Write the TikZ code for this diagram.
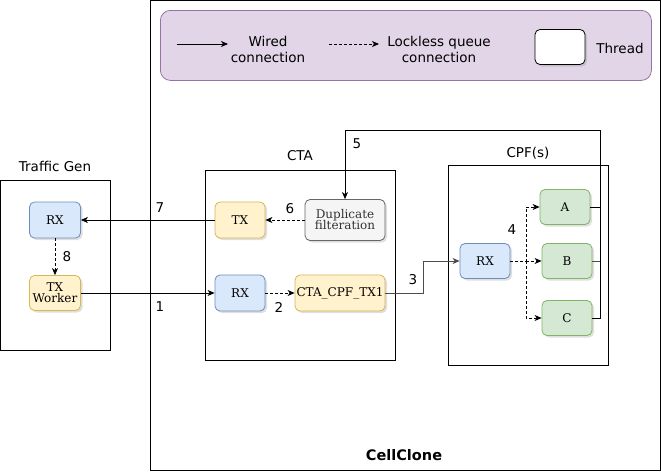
\documentclass[tikz,border=0pt]{standalone}
\usepackage{fontspec}
\setmainfont{DejaVu Sans}
\newfontfamily\nodefont{DejaVu Serif}
\usetikzlibrary{arrows.meta,shadows}
\definecolor{bluef}{HTML}{DAE8FC}\definecolor{blues}{HTML}{6C8EBF}
\definecolor{yelf}{HTML}{FFF2CC}\definecolor{yels}{HTML}{D6B656}
\definecolor{grnf}{HTML}{D5E8D4}\definecolor{grns}{HTML}{82B366}
\definecolor{gryf}{HTML}{F5F5F5}\definecolor{grys}{HTML}{666666}
\definecolor{purf}{HTML}{E1D5E7}\definecolor{purs}{HTML}{9673A6}
\begin{document}
\begin{tikzpicture}[x=1pt,y=-1pt,
  thr/.style={draw, rounded corners=5pt, line width=0.8pt, minimum width=50pt, minimum height=35pt, inner sep=1pt, align=center, font=\nodefont\fontsize{12}{13}\selectfont, drop shadow={shadow xshift=2pt, shadow yshift=-2pt, opacity=0.25}},
  bluebox/.style={thr, fill=bluef, draw=blues},
  yelbox/.style={thr, fill=yelf, draw=yels},
  grnbox/.style={thr, fill=grnf, draw=grns},
  grybox/.style={thr, fill=gryf, draw=grys, text=black!80},
  frame/.style={draw, line width=0.8pt},
  lbl/.style={font=\fontsize{13.5}{16}\selectfont},
  wired/.style={line width=0.8pt, -{Stealth[length=7pt,width=6pt,inset=2pt]}},
  lockless/.style={wired, dashed, dash pattern=on 3pt off 2pt},
]
\useasboundingbox (0,0) rectangle (661,471);
% CellClone outer frame
\node[frame, minimum width=510pt, minimum height=470pt, anchor=north west, inner sep=0pt] (cell) at (150,0) {};
\node[font=\bfseries\fontsize{14.5}{16}\selectfont] (celllbl) at (404,455) {CellClone};
% Legend
\node[draw=purs, fill=purf, rounded corners=10pt, line width=0.8pt, minimum width=491pt, minimum height=70pt, anchor=north west, inner sep=0pt] (legend) at (160,10) {};
\coordinate (lw1) at (177,44); \coordinate (lw2) at (228,44);
\draw[wired] (lw1) -- (lw2);
\node[lbl, align=center] (lwt) at (268,49) {Wired\\connection};
\coordinate (ll1) at (329,44); \coordinate (ll2) at (379,44);
\draw[lockless] (ll1) -- (ll2);
\node[lbl, align=center] (llt) at (439,49) {Lockless queue\\connection};
\node[draw, fill=white, rounded corners=5pt, line width=0.8pt, minimum width=50pt, minimum height=35pt, drop shadow={shadow xshift=2pt, shadow yshift=-2pt, opacity=0.25}] (thrleg) at (560,47) {};
\node[lbl] (thrt) at (620,48) {Thread};
% Traffic Gen
\node[frame, minimum width=110pt, minimum height=170pt, anchor=north west, inner sep=0pt] (tg) at (0,180) {};
\node[lbl] (tglbl) at (55,166) {Traffic Gen};
\node[bluebox, minimum width=51pt, minimum height=36pt] (tgrx) at (55,220) {RX};
\node[yelbox, minimum width=51pt, minimum height=35pt] (tgtx) at (55,293) {TX\\[-2pt]Worker};
% CTA
\node[frame, minimum width=190pt, minimum height=190pt, anchor=north west, inner sep=0pt] (cta) at (205,170) {};
\node[lbl] (ctalbl) at (300,156) {CTA};
\node[yelbox, minimum height=36pt] (ctatx) at (240,220) {TX};
\node[grybox, minimum width=80pt, minimum height=41pt] (dup) at (345,220) {Duplicate\\[-2pt]filteration};
\node[bluebox, minimum height=36pt] (ctarx) at (240,293) {RX};
\node[yelbox, minimum width=90pt, minimum height=36pt] (ctacpf) at (340,293) {CTA\_CPF\_TX1};
% CPF
\node[frame, minimum width=160pt, minimum height=200pt, anchor=north west, inner sep=0pt] (cpf) at (448,165) {};
\node[lbl] (cpflbl) at (528,153) {CPF(s)};
\node[bluebox] (cpfrx) at (485,261) {RX};
\node[grnbox] (a) at (565,207) {A};
\node[grnbox] (b) at (567,261) {B};
\node[grnbox] (c) at (567,318) {C};
% connectors
\draw[lockless] (tgrx) -- node[lbl, right=4pt] {8} (tgtx);
\draw[wired] (tgtx) -- (ctarx);
\node[lbl] (n1) at (160,307) {1};
\draw[lockless] (ctarx) -- (ctacpf);
\node[lbl] (n2) at (279,307) {2};
\coordinate (j3) at (423,293);
\draw[wired, draw=black!70] (ctacpf.east) -- (j3) |- (cpfrx.west);
\node[lbl] (n3) at (413,280) {3};
\coordinate (j4) at (526,261);
\draw[lockless] (cpfrx.east) -- (j4) |- (a.west);
\draw[lockless] (j4) -- (b.west);
\draw[lockless] (j4) |- (c.west);
\node[lbl] (n4) at (512,230) {4};
\coordinate (v5) at (600,207);
\coordinate (t5) at (600,130);
\coordinate (l5) at (345,130);
\draw[line width=0.8pt] (a.east) -- (v5);
\draw[line width=0.8pt, draw=black!70] (b.east) -- (600,261);
\draw[line width=0.8pt] (c.east) -- (600,318) -- (t5) -- (l5);
\draw[wired] (l5) -- (dup.north);
\node[lbl] (n5) at (357,144) {5};
\draw[lockless] (dup) -- (ctatx);
\node[lbl] (n6) at (290,209) {6};
\draw[wired] (ctatx) -- (tgrx);
\node[lbl] (n7) at (160,208) {7};
\end{tikzpicture}
\end{document}
